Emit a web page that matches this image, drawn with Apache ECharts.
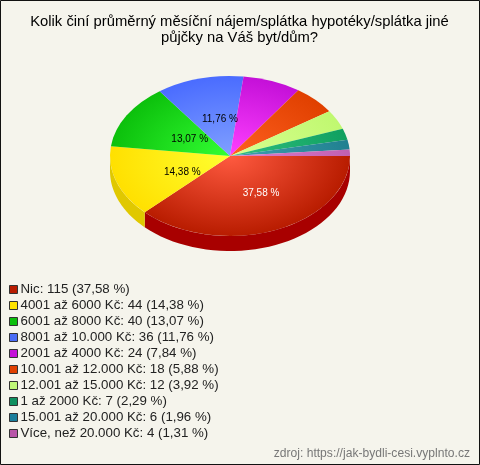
<!DOCTYPE html>
<html><head><meta charset="utf-8">
<style>html,body{margin:0;padding:0;background:#f5f4ec}#c{width:480px;height:465px}</style>
<script src="https://cdn.jsdelivr.net/npm/echarts@6/dist/echarts.min.js"></script>
</head><body><div id="c"></div>
<script>
const categories = ['Nic','4001 až 6000 Kč','6001 až 8000 Kč','8001 až 10.000 Kč','2001 až 4000 Kč','10.001 až 12.000 Kč','12.001 až 15.000 Kč','1 až 2000 Kč','15.001 až 20.000 Kč','Více, než 20.000 Kč'];
const counts = [115,44,40,36,24,18,12,7,6,4];
const percents = ['37,58','14,38','13,07','11,76','7,84','5,88','3,92','2,29','1,96','1,31'];
const swatch = ['#b81c00','#ffe400','#0cbf0c','#4a6cf5','#c410d8','#e04000','#c0f878','#0f9060','#1a7e9c','#b855a8'];
const inner = ['#ff5a40','#ffff30','#33ff33','#80a0ff','#ff40ff','#ff6020','#d8ff90','#30c080','#40a0b0','#e080d0'];
const outer = ['#b81c00','#ffe000','#0cc00c','#4a6cff','#c410d8','#e04000','#c0f870','#10a060','#208090','#c060b0'];
const sides = ['#a80000','#e0c800','#0a9a0a','#3a55c8','#9c0cac','#b43200','#9ac660','#0c744c','#15657e','#934486'];
const labelColors = ['#ffffff','#000000','#000000','#000000'];
const labelSpots = [[.68,.51],[.42,.62],[.39,.40],[.33,.47]];

const cx=230, cy=156, rx=120, ry=80, depth=15;
const total = counts.reduce((a,b)=>a+b,0);
const starts = []; let acc = 0;
counts.forEach(v=>{starts.push(acc/total*Math.PI*2); acc+=v;});

function render(i){
  return function(params, api){
    const a0=starts[i], a1=a0+api.value(0)/total*Math.PI*2;
    const children=[{
      type:'sector', x:cx, y:cy, scaleY:ry/rx,
      shape:{cx:0,cy:0,r:rx,r0:0,startAngle:a0,endAngle:a1,clockwise:true},
      style:{fill:{type:'radial',x:0,y:0,r:rx,global:true,colorStops:[{offset:0,color:inner[i]},{offset:1,color:outer[i]}]}}
    }];
    const e=Math.min(a1,Math.PI);
    if(a0<Math.PI){
      const top=[],bot=[];
      for(let k=0;k<=40;k++){
        const t=a0+(e-a0)*k/40, x=cx+rx*Math.cos(t), y=cy+ry*Math.sin(t);
        top.push([x,y]); bot.unshift([x,y+depth]);
      }
      children.push({type:'polygon',shape:{points:top.concat(bot)},style:{fill:sides[i]}});
    }
    if(i<labelSpots.length){
      const m=(a0+a1)/2;
      children.push({type:'text',z2:100,
        x:cx+labelSpots[i][0]*rx*Math.cos(m), y:cy+labelSpots[i][1]*ry*Math.sin(m),
        style:{text:percents[i]+' %',fill:labelColors[i],font:'10px "Liberation Sans"',align:'center',verticalAlign:'middle'}});
    }
    return {type:'group',children};
  };
}

const option={
  backgroundColor:'#f5f4ec',
  animation:false,
  title:[
    {text:'Kolik činí průměrný měsíční nájem/splátka hypotéky/splátka jiné\npůjčky na Váš byt/dům?',left:234.5,textAlign:'center',top:9,
     textStyle:{fontFamily:'Liberation Sans',fontSize:14.8,fontWeight:'normal',color:'#000',lineHeight:16}},
    {text:'zdroj: https://jak-bydli-cesi.vyplnto.cz',right:5,top:443,
     textStyle:{fontFamily:'Liberation Sans',fontSize:12.1,fontWeight:'normal',color:'#777'}}
  ],
  legend:{
    orient:'vertical',left:9,top:283,padding:0,itemWidth:8,itemHeight:8,itemGap:3,icon:'rect',selectedMode:false,
    textStyle:{fontFamily:'Liberation Sans',fontSize:13.3,color:'#222',padding:[0,0,0,-2],lineHeight:11},
    data:categories.map((n,i)=>({name:n,itemStyle:{color:swatch[i],borderColor:'#333',borderWidth:1}})),
    formatter:n=>{const i=categories.indexOf(n);return n+': '+counts[i]+' ('+percents[i]+' %)';}
  },
  graphic:[{type:'rect',silent:true,z:-1,shape:{x:0.5,y:0.5,width:479,height:464},style:{fill:'none',stroke:'#111',lineWidth:1}}],
  series:categories.map((n,i)=>({
    type:'custom',name:n,coordinateSystem:'none',silent:true,
    itemStyle:{color:swatch[i]},
    data:[[counts[i]]],
    renderItem:render(i)
  }))
};
echarts.init(document.getElementById('c'),null,{renderer:'canvas'}).setOption(option);
</script></body></html>
